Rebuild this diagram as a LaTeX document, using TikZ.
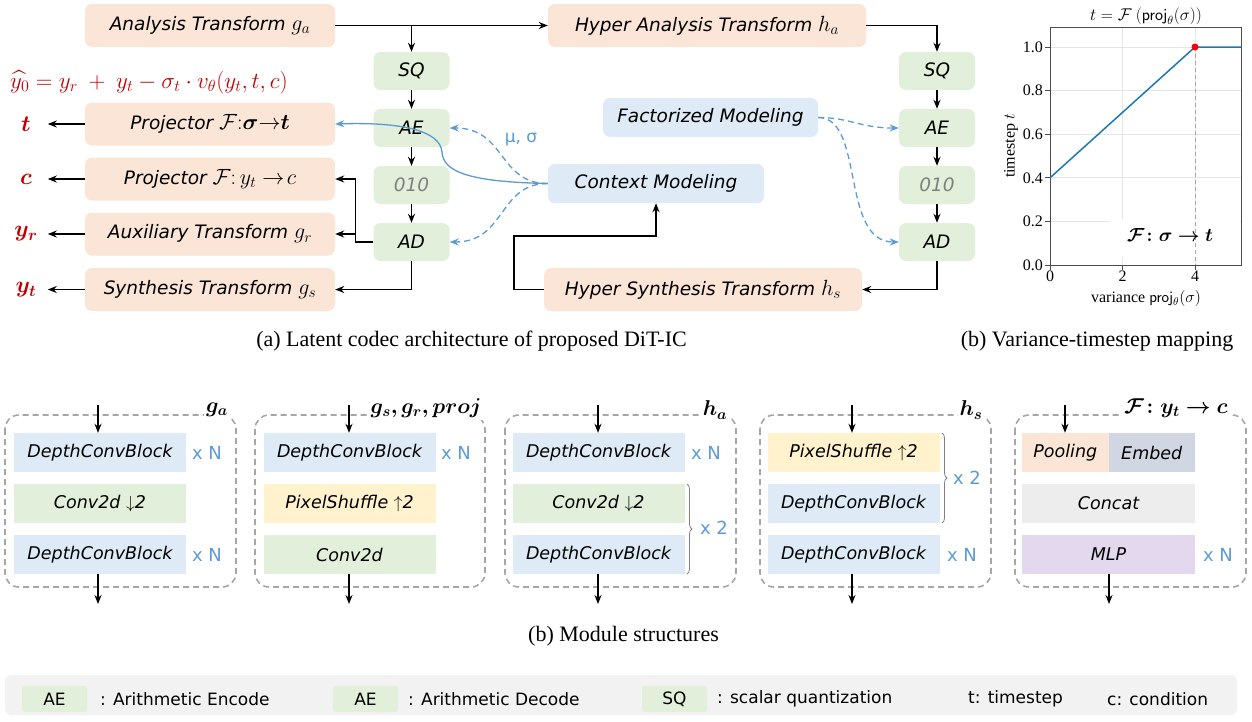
\RequirePackage{fix-cm}
\documentclass[tikz,border=0pt]{standalone}
\usepackage{amsmath,bm}
\usepackage{fontspec}
\setmainfont{Liberation Serif}
\newfontfamily\cf{DejaVu Sans}
\newcommand\mth[1]{{\fontsize{22}{24}\selectfont$#1$}}
\usetikzlibrary{arrows.meta,decorations.pathreplacing,calc}
\definecolor{peach}{HTML}{FBE5D6}
\definecolor{lgreen}{HTML}{E2EFDA}
\definecolor{lblue}{HTML}{DEEBF7}
\definecolor{lyellow}{HTML}{FFF2CC}
\definecolor{lgray}{HTML}{EDEDED}
\definecolor{lpurple}{HTML}{E4D8EE}
\definecolor{embedc}{HTML}{D0D6E2}
\definecolor{dred}{HTML}{C00000}
\definecolor{mblue}{HTML}{5B9BD5}
\definecolor{plotblue}{HTML}{1F77B4}
\definecolor{dgray}{HTML}{A6A6A6}
\definecolor{legbg}{HTML}{F2F2F2}
\begin{document}
\begin{tikzpicture}[x=1pt,y=-1pt,
  >={Stealth[length=9pt,width=7pt]},
  conn/.style={line width=1.6pt,->},
  bx/.style={rounded corners=7pt,inner sep=0pt,font=\cf\itshape\fontsize{18.5}{21}\selectfont},
  pbox/.style={bx,fill=peach,minimum width=250pt,minimum height=43pt},
  hbox/.style={bx,fill=peach,minimum width=318pt,minimum height=43pt},
  gbox/.style={bx,fill=lgreen,minimum width=76pt,minimum height=38pt},
  bbox/.style={bx,fill=lblue,minimum width=216pt,minimum height=39pt},
  redl/.style={text=dred,font=\fontsize{23}{26}\selectfont},
  bdash/.style={draw=mblue,line width=1.3pt,dash pattern=on 6pt off 4pt,->},
  blk/.style={inner sep=0pt,minimum width=172pt,minimum height=39pt,font=\cf\itshape\fontsize{17.5}{20}\selectfont},
  modbox/.style={draw=dgray,line width=1.6pt,dash pattern=on 6pt off 4pt,rounded corners=14pt},
  modtitle/.style={fill=white,inner sep=2pt,font=\fontsize{21.5}{24}\selectfont},
  xn/.style={text=mblue,font=\cf\fontsize{18}{21}\selectfont},
  brc/.style={decorate,decoration={brace,amplitude=5pt},draw=gray,line width=0.8pt},
  tklab/.style={font=\fontsize{16}{18}\selectfont},
  captxt/.style={font=\fontsize{22}{25}\selectfont},
  lgsw/.style={fill=lgreen,rounded corners=3pt,minimum width=65pt,minimum height=26pt,inner sep=0pt,font=\cf\fontsize{17}{20}\selectfont},
  lgt/.style={anchor=west,inner sep=0pt,font=\cf\fontsize{17}{20}\selectfont}
]
\useasboundingbox (0,0) rectangle (1252,721);

% ---------- top architecture ----------
\node[pbox] (ga) at (210,25.5) {Analysis Transform \mth{g_a}};
\node[pbox] (pt) at (210,124) {Projector \mth{\mathcal{F}{:}\bm{\sigma}{\rightarrow}\bm{t}}};
\node[pbox] (pc) at (210,179) {Projector \mth{\mathcal{F}{:}\,y_t \rightarrow\! c}};
\node[pbox] (gr) at (210,234) {Auxiliary Transform \mth{g_r}};
\node[pbox] (gs) at (210,289.5) {Synthesis Transform \mth{g_s}};
\node[hbox] (ha) at (707,25.5) {Hyper Analysis Transform \mth{h_a}};
\node[hbox] (hs) at (703,289.5) {Hyper Synthesis Transform \mth{h_s}};

\node[gbox] (SQ1) at (411.5,71) {SQ};
\node[gbox] (AE1) at (411.5,128) {AE};
\node[gbox,text=gray] (B1) at (411.5,185) {010};
\node[gbox] (AD1) at (411.5,242) {AD};
\node[gbox] (SQ2) at (937,71) {SQ};
\node[gbox] (AE2) at (937,128) {AE};
\node[gbox,text=gray] (B2) at (937,185) {010};
\node[gbox] (AD2) at (937,242) {AD};

\node[bbox,minimum width=215pt] (FM) at (710.5,117.5) {Factorized Modeling};
\node[bbox] (CM) at (656,183.5) {Context Modeling};

\node[redl,anchor=west,inner sep=0pt] (eq) at (10,82) {$\widehat{y_0} = y_r\ +\ y_t - \sigma_t \cdot v_\theta(y_t,t,c)$};
\node[redl] (lt) at (26,124) {$\bm{t}$};
\node[redl] (lc) at (26,179) {$\bm{c}$};
\node[redl] (lyr) at (26,234) {$\bm{y_r}$};
\node[redl] (lyt) at (26,290) {$\bm{y_t}$};
\foreach \b/\l in {pt/lt,pc/lc,gr/lyr,gs/lyt}{
  \draw[conn] (\b.west) -- ($(\b.west)+(-37,0)$);
}

\coordinate (j1) at (411.5,25.5);
\draw[line width=1.6pt] (ga.east) -- (j1);
\draw[conn] (j1) -- (ha.west);
\draw[conn] (j1) -- (SQ1.north);
\draw[conn] (SQ1) -- (AE1);
\draw[conn] (AE1) -- (B1);
\draw[conn] (B1) -- (AD1);
\draw[conn] (ha.east) -| (SQ2.north);
\draw[conn] (SQ2) -- (AE2);
\draw[conn] (AE2) -- (B2);
\draw[conn] (B2) -- (AD2);
\draw[conn] (AD1.south) |- (gs.east);
\draw[conn] (AD2.south) |- (hs.east);
\coordinate (br) at (355.5,234);
\draw[conn] (AD1.west) -- (355.5,242) |- (pc.east);
\draw[conn] (br) -- (gr.east);
\coordinate (hk) at (514,236);
\draw[conn] (hs.west) -| (hk) -| (CM.south);

% blue curves
\draw[mblue,line width=1.3pt,->] (CM.west) .. controls (470,182) and (443,172) .. (442,152) .. controls (440,130) and (400,122) .. (pt.east);
\draw[bdash] (CM.west) .. controls (498,183.5) and (506,128) .. (AE1.east);
\draw[bdash] (CM.west) .. controls (498,183.5) and (506,242) .. (AD1.east);
\node[text=mblue,font=\cf\fontsize{17}{20}\selectfont] (mu) at (521,140) {μ, σ};
\draw[bdash] (FM.east) .. controls (850,117.5) and (860,128) .. (AE2.west);
\draw[bdash] (FM.east) .. controls (865,117.5) and (840,242) .. (AD2.west);

% ---------- plot ----------
\foreach \v in {47,90.6,134.2,177.8,221.4}{\draw[black!10,line width=0.8pt] (1050,\v) -- (1241,\v);}
\foreach \u in {1122.5,1195}{\draw[black!10,line width=0.8pt] (\u,27) -- (\u,265);}
\fill[white] (1110,219) rectangle (1240,257);
\draw[black!35,line width=0.9pt,dash pattern=on 4pt off 3pt] (1195,47) -- (1195,265);
\draw[black!70,line width=0.9pt] (1050,27) rectangle (1241,265);
\draw[plotblue,line width=1.5pt] (1050,177.8) -- (1195,47) -- (1241,47);
\fill[red] (1195,47) circle (3.5pt);
\foreach \v/\t in {265/0.0,221.4/0.2,177.8/0.4,134.2/0.6,90.6/0.8,47/1.0}{
  \draw[black!70,line width=0.8pt] (1050,\v) -- (1045,\v);
  \node[tklab,anchor=east,inner sep=1pt] at (1044,\v) {\t};}
\foreach \u/\t in {1050/0,1122.5/2,1195/4}{
  \draw[black!70,line width=0.8pt] (\u,265) -- (\u,270);
  \node[tklab,anchor=north,inner sep=1pt] at (\u,270) {\t};}
\node[font=\fontsize{17}{20}\selectfont] (ptitle) at (1146,16) {$t=\mathcal{F}\ (\textsf{proj}_\theta(\sigma))$};
\node[font=\fontsize{16}{18}\selectfont,rotate=90] (ylab) at (1011,146) {timestep $t$};
\node[font=\fontsize{16}{18}\selectfont] (xlab) at (1146,298) {variance $\textsf{proj}_\theta(\sigma)$};
\node[font=\fontsize{19}{22}\selectfont] (Flab) at (1170,235) {$\bm{\mathcal{F}\colon\sigma\rightarrow t}$};

% captions
\node[captxt] (capa) at (471.5,341) {(a) Latent codec architecture of proposed DiT-IC};
\node[captxt] (capb) at (1097,341) {(b) Variance-timestep mapping};
\node[captxt] (capc) at (623.5,636) {(b) Module structures};

% ---------- module structures ----------
% module 1
\draw[modbox] (5,415) rectangle (236,587);
\node[modtitle] (t1) at (217,410) {$\bm{g_a}$};
\node[blk,fill=lblue] (m1a) at (100,452.5) {DepthConvBlock};
\node[blk,fill=lgreen] (m1b) at (100,503.5) {Conv2d $\downarrow$2};
\node[blk,fill=lblue] (m1c) at (100,554.5) {DepthConvBlock};
\node[xn] (x1a) at (207,452.5) {x N};
\node[xn] (x1c) at (207,554.5) {x N};
% module 2
\draw[modbox] (255,415) rectangle (485,587);
\node[modtitle] (t2) at (426,408) {$\bm{g_s, g_r, proj}$};
\node[blk,fill=lblue] (m2a) at (349.5,452.5) {DepthConvBlock};
\node[blk,fill=lyellow] (m2b) at (349.5,503.5) {PixelShuffle $\uparrow$2};
\node[blk,fill=lgreen] (m2c) at (349.5,554.5) {Conv2d};
\node[xn] (x2a) at (456,452.5) {x N};
% module 3
\draw[modbox] (505,415) rectangle (736,587);
\node[modtitle] (t3) at (715,410) {$\bm{h_a}$};
\node[blk,fill=lblue] (m3a) at (598.5,452.5) {DepthConvBlock};
\node[blk,fill=lgreen] (m3b) at (598.5,503.5) {Conv2d $\downarrow$2};
\node[blk,fill=lblue] (m3c) at (598.5,554.5) {DepthConvBlock};
\node[xn] (x3a) at (706,452.5) {x N};
\draw[brc] (687,484) -- (687,574);
\node[xn] (x3b) at (714,528) {x 2};
% module 4
\draw[modbox] (760,415) rectangle (991,587);
\node[modtitle] (t4) at (971,410) {$\bm{h_s}$};
\node[blk,fill=lyellow] (m4a) at (853.5,452.5) {PixelShuffle $\uparrow$2};
\node[blk,fill=lblue] (m4b) at (853.5,503.5) {DepthConvBlock};
\node[blk,fill=lblue] (m4c) at (853.5,554.5) {DepthConvBlock};
\node[xn] (x4c) at (962,554.5) {x N};
\draw[brc] (942,433) -- (942,523);
\node[xn] (x4b) at (967,478) {x 2};
% module 5
\draw[modbox] (1015,415) rectangle (1246,587);
\node[modtitle] (t5) at (1176,408) {$\bm{\mathcal{F}\colon y_t\rightarrow c}$};
\node[blk,fill=peach,minimum width=86.5pt] (m5p) at (1065.25,452.5) {Pooling};
\node[blk,fill=embedc,minimum width=86.5pt] (m5e) at (1151.75,452.5) {Embed};
\node[blk,fill=lgray,minimum width=173pt] (m5b) at (1108.5,503.5) {Concat};
\node[blk,fill=lpurple,minimum width=173pt] (m5c) at (1108.5,554.5) {MLP};
\node[xn] (x5c) at (1218,554.5) {x N};

% in/out arrows
\foreach \i/\x/\top/\bot in {1/98/m1a/m1c,2/349/m2a/m2c,3/598/m3a/m3c,4/852/m4a/m4c}{
  \coordinate (in\i) at (\x,405);
  \coordinate (out\i) at (\x,604);
  \draw[conn] (in\i) -- (in\i |- \top.north);
  \draw[conn] (out\i |- \bot.south) -- (out\i);
}
\coordinate (in5) at (1065,405);
\coordinate (out5) at (1109,604);
\draw[conn] (in5) -- (in5 |- m5p.north);
\draw[conn] (out5 |- m5c.south) -- (out5);

% ---------- legend ----------
\fill[legbg,rounded corners=6pt] (5,675) rectangle (1237,715);
\node[lgsw] (lg1) at (54.5,699) {AE};
\node[lgt] (lt1) at (100,699) {: Arithmetic Encode};
\node[lgsw] (lg2) at (365.5,699) {AE};
\node[lgt] (lt2) at (408,699) {: Arithmetic Decode};
\node[lgsw] (lg3) at (674.5,699) {SQ};
\node[lgt] (lt3) at (717,699) {: scalar quantization};
\node[lgt] (lt4) at (968,699) {t: timestep};
\node[lgt] (lt5) at (1107,699) {c: condition};
\end{tikzpicture}
\end{document}
